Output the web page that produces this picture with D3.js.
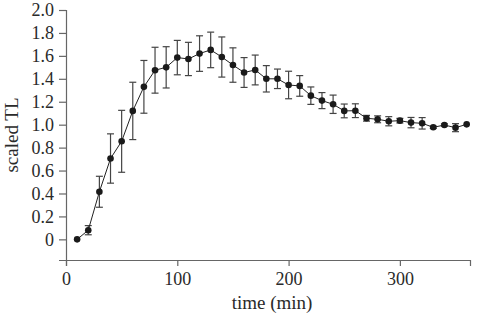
<!DOCTYPE html>
<html>
<head>
<meta charset="utf-8">
<script src="https://cdn.jsdelivr.net/npm/d3@7"></script>
<style>
  body { margin: 0; background: #fff; }
  svg text { font-family: "Liberation Serif", "Times New Roman", serif !important; }
</style>
</head>
<body>
<div id="chart"></div>
<script>
// tiempos (min) y valores medidos
const times = [10, 20, 30, 40, 50, 60, 70, 80, 90, 100, 110, 120, 130, 140, 150, 160, 170, 180,
  190, 200, 210, 220, 230, 240, 250, 260, 270, 280, 290, 300, 310, 320, 330, 340, 350, 360];
const scaledTL = [0, 0.08, 0.415, 0.705, 0.855, 1.12, 1.33, 1.475, 1.50, 1.585, 1.573, 1.62, 1.652, 1.59, 1.52, 1.455, 1.477, 1.40,
  1.40, 1.346, 1.338, 1.253, 1.21, 1.178, 1.12, 1.122, 1.056, 1.047, 1.03, 1.035, 1.018, 1.012, 0.977, 0.997, 0.974, 1.003];
const errs = [0, 0.04, 0.135, 0.215, 0.27, 0.25, 0.23, 0.2, 0.18, 0.15, 0.145, 0.155, 0.155, 0.175, 0.15, 0.13, 0.13, 0.115,
  0.085, 0.12, 0.09, 0.076, 0.07, 0.08, 0.06, 0.06, 0.025, 0.03, 0.04, 0.02, 0.045, 0.05, 0.01, 0.01, 0.035, 0];
const xTicks = [0, 100, 200, 300];
const yTicks = [0, 0.2, 0.4, 0.6, 0.8, 1.0, 1.2, 1.4, 1.6, 1.8, 2.0];

const data = times.map((t, i) => ({ t: t, v: scaledTL[i], e: errs[i] }));

const width = 478, height = 316;
const margin = { top: 10, right: 8, bottom: 56, left: 66 };
const serif = "'Liberation Serif', 'Times New Roman', serif";

const svg = d3.select("#chart").append("svg")
  .attr("width", width)
  .attr("height", height);

const x = d3.scaleLinear().domain([0, 363]).range([margin.left, width - margin.right]);
const y = d3.scaleLinear().domain([-0.18, 2.0]).range([height - margin.bottom, margin.top]);

// ejes
svg.append("g")
  .attr("transform", "translate(0," + (height - margin.bottom) + ")")
  .call(d3.axisBottom(x).tickValues(xTicks).tickSizeOuter(0).tickSize(6).tickPadding(6).tickFormat(d3.format("d")))
  .attr("font-family", serif).attr("font-size", 18);

svg.append("g")
  .attr("transform", "translate(" + margin.left + ",0)")
  .call(d3.axisLeft(y).tickValues(yTicks).tickSizeOuter(0).tickSize(7).tickPadding(5)
    .tickFormat(d => d === 0 ? "0" : d3.format(".1f")(d)))
  .attr("font-family", serif).attr("font-size", 18);

svg.selectAll(".domain, .tick line").attr("stroke", "#666").attr("stroke-width", 1.2);
svg.selectAll(".tick text").attr("fill", "#2a2a2a");

// barras de error
const eb = svg.append("g").attr("stroke", "#444").attr("stroke-width", 1.2);
data.filter(d => d.e > 0).forEach(d => {
  eb.append("line").attr("x1", x(d.t)).attr("x2", x(d.t)).attr("y1", y(d.v - d.e)).attr("y2", y(d.v + d.e));
  eb.append("line").attr("x1", x(d.t) - 3.5).attr("x2", x(d.t) + 3.5).attr("y1", y(d.v - d.e)).attr("y2", y(d.v - d.e));
  eb.append("line").attr("x1", x(d.t) - 3.5).attr("x2", x(d.t) + 3.5).attr("y1", y(d.v + d.e)).attr("y2", y(d.v + d.e));
});

// linea
svg.append("path")
  .datum(data)
  .attr("fill", "none")
  .attr("stroke", "#222")
  .attr("stroke-width", 1)
  .attr("d", d3.line().x(d => x(d.t)).y(d => y(d.v)));

// puntos
svg.selectAll("circle.pt")
  .data(data)
  .enter().append("circle")
  .attr("class", "pt")
  .attr("cx", d => x(d.t))
  .attr("cy", d => y(d.v))
  .attr("r", 3.3)
  .attr("fill", "#1a1a1a");

// titulos de ejes
svg.append("text")
  .attr("x", 272)
  .attr("y", 309)
  .attr("text-anchor", "middle")
  .attr("font-size", 19)
  .attr("fill", "#2a2a2a")
  .text("time (min)");

svg.append("text")
  .attr("transform", "translate(18,135) rotate(-90)")
  .attr("text-anchor", "middle")
  .attr("font-size", 19)
  .attr("fill", "#2a2a2a")
  .text("scaled TL");
</script>
</body>
</html>
